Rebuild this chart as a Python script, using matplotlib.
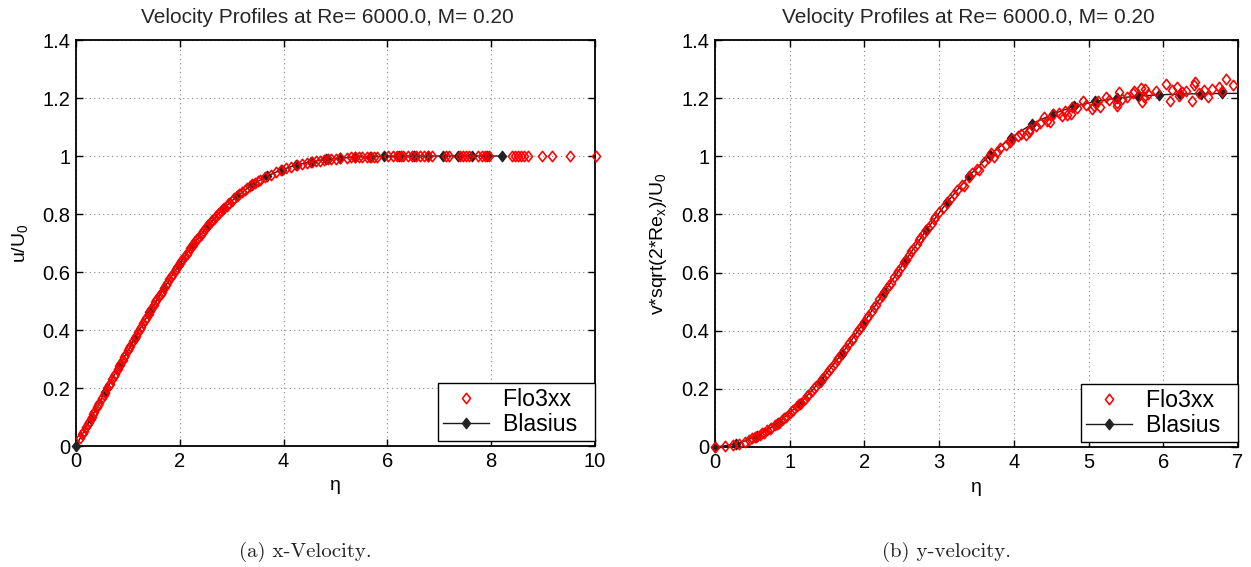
import matplotlib
matplotlib.use("Agg")
import matplotlib.pyplot as plt
from matplotlib.path import Path
from matplotlib.patches import Rectangle

plt.rcParams['font.family'] = ['Liberation Sans', 'DejaVu Sans']
plt.rcParams['mathtext.fontset'] = 'custom'
plt.rcParams['mathtext.rm'] = 'Liberation Sans'
plt.rcParams['mathtext.it'] = 'Liberation Sans'

# ---------------- data ----------------
title_text = "Velocity Profiles at Re= 6000.0, M= 0.20"

# Blasius solution points (eta, u/U0, v*sqrt(2Re_x)/U0)
blasius_eta = [0.000, 0.283, 0.566, 0.849, 1.131, 1.414, 1.697, 1.980, 2.263, 2.546,
               2.828, 3.111, 3.394, 3.677, 3.960, 4.243, 4.525, 4.808, 5.091, 5.374,
               5.657, 5.940, 6.223, 6.505, 6.788, 7.071, 7.354, 7.637, 7.920, 8.202]
blasius_u = [0.0000, 0.0940, 0.1877, 0.2807, 0.3717, 0.4605, 0.5449, 0.6243, 0.6963, 0.7607,
             0.8164, 0.8627, 0.9010, 0.9302, 0.9526, 0.9689, 0.9801, 0.9880, 0.9928, 0.9959,
             0.9977, 0.9988, 0.9994, 0.9997, 0.9999, 1.0000, 1.0000, 1.0000, 1.0000, 1.0000]
blasius_v = [0.0000, 0.0094, 0.0376, 0.0840, 0.1477, 0.2276, 0.3203, 0.4234, 0.5315, 0.6404,
             0.7461, 0.8430, 0.9309, 1.0038, 1.0640, 1.1112, 1.1457, 1.1718, 1.1885, 1.2000,
             1.2069, 1.2114, 1.2140, 1.2153, 1.2162, 1.2165, 1.2167, 1.2168, 1.2168, 1.2168]

# Flo3xx, x-velocity
flo_eta_u = [0.08, 0.12, 0.16, 0.20, 0.25, 0.30, 0.35, 0.40, 0.45, 0.50, 0.55, 0.60, 0.65,
             0.70, 0.75, 0.80, 0.85, 0.90, 0.95, 1.00, 1.05, 1.10, 1.15, 1.20, 1.25, 1.30,
             1.35, 1.40, 1.45, 1.50, 1.55, 1.60, 1.65, 1.70, 1.75, 1.80, 1.85, 1.90, 1.95,
             2.00, 2.05, 2.10, 2.15, 2.20, 2.25, 2.30, 2.35, 2.40, 2.45, 2.50, 2.55, 2.60,
             2.65, 2.70, 2.75, 2.80, 2.85, 2.90, 2.95, 3.00, 3.05, 3.10, 3.15, 3.20, 3.25,
             3.30, 3.35, 3.40, 3.45, 3.50, 3.55, 3.65, 3.75, 3.85, 3.95, 4.05, 4.15, 4.25,
             4.35, 4.45, 4.55, 4.62, 4.70, 4.78, 4.85, 4.92, 5.00, 5.08, 5.22, 5.30, 5.38,
             5.45, 5.52, 5.60, 5.68, 5.75, 5.80, 6.02, 6.10, 6.18, 6.26, 6.30, 6.40, 6.47,
             6.55, 6.62, 6.70, 6.78, 6.86, 7.12, 7.18, 7.40, 7.45, 7.52, 7.58, 7.75, 7.82,
             7.88, 7.95, 8.40, 8.46, 8.52, 8.58, 8.63, 8.70, 8.98, 9.17, 9.52, 10.02,
             0.13, 0.23, 0.33, 0.43, 0.53, 0.63, 0.73, 0.83, 0.93, 1.03, 1.13, 1.23, 1.33,
             1.43, 1.53, 1.63, 1.73, 1.83, 1.93, 2.03, 2.13, 2.23, 2.33, 2.43, 2.53, 2.63,
             2.73, 2.83, 2.93]
flo_u = [0.0266, 0.0398, 0.0531, 0.0664, 0.0830, 0.0996, 0.1162, 0.1328, 0.1493, 0.1659,
         0.1824, 0.1989, 0.2154, 0.2319, 0.2483, 0.2647, 0.2811, 0.2974, 0.3136, 0.3298,
         0.3459, 0.3619, 0.3779, 0.3938, 0.4096, 0.4252, 0.4408, 0.4563, 0.4716, 0.4868,
         0.5018, 0.5168, 0.5315, 0.5461, 0.5605, 0.5748, 0.5888, 0.6026, 0.6163, 0.6298,
         0.6430, 0.6560, 0.6688, 0.6813, 0.6936, 0.7056, 0.7174, 0.7290, 0.7403, 0.7513,
         0.7620, 0.7725, 0.7827, 0.7926, 0.8022, 0.8115, 0.8205, 0.8292, 0.8377, 0.8461,
         0.8540, 0.8617, 0.8690, 0.8761, 0.8828, 0.8893, 0.8956, 0.9018, 0.9075, 0.9130,
         0.9170, 0.9270, 0.9360, 0.9440, 0.9510, 0.9570, 0.9630, 0.9680, 0.9720, 0.9760,
         0.9800, 0.9820, 0.9840, 0.9860, 0.9880, 0.9890, 0.9910, 0.9920, 0.9940, 0.9950,
         0.9960, 0.9960, 0.9970, 0.9970, 0.9980, 0.9980, 0.9980, 0.9990, 0.9990, 0.9990,
         0.9990, 0.9990, 1.0000, 1.0000, 1.0000, 1.0000, 1.0000, 1.0000, 1.0000, 1.0000,
         1.0000, 1.0000, 1.0000, 1.0000, 1.0000, 1.0000, 1.0000, 1.0000, 1.0000, 1.0000,
         1.0000, 1.0000, 1.0000, 1.0000, 1.0000, 1.0000, 1.0000, 1.0000, 1.0000,
         0.0432, 0.0764, 0.1096, 0.1427, 0.1758, 0.2088, 0.2417, 0.2746, 0.3071, 0.3395,
         0.3715, 0.4033, 0.4346, 0.4655, 0.4958, 0.5256, 0.5548, 0.5832, 0.6108, 0.6377,
         0.6637, 0.6887, 0.7127, 0.7358, 0.7577, 0.7786, 0.7984, 0.8169, 0.8343]

# Flo3xx, y-velocity
flo_eta_v = [0.00, 0.13, 0.24, 0.32, 0.40, 0.45, 0.50, 0.55, 0.60, 0.65, 0.70, 0.75, 0.80,
             0.85, 0.90, 0.95, 1.00, 1.05, 1.10, 1.15, 1.20, 1.25, 1.30, 1.35, 1.40, 1.45,
             1.50, 1.55, 1.60, 1.65, 1.70, 1.75, 1.80, 1.85, 1.90, 1.95, 2.00, 2.05, 2.10,
             2.15, 2.20, 2.25, 2.30, 2.35, 2.40, 2.45, 2.50, 2.55, 2.60, 2.65, 2.70, 2.75,
             2.80, 2.85, 2.90, 2.95, 3.00, 3.05, 3.10, 3.15, 3.20, 3.24, 3.30, 3.33, 3.40,
             3.44, 3.50, 3.53, 3.60, 3.65, 3.69, 3.73, 3.78, 3.82, 3.89, 3.95, 3.98, 4.05,
             4.09, 4.16, 4.20, 4.22, 4.30, 4.35, 4.40, 4.45, 4.49, 4.53, 4.60, 4.65, 4.69,
             4.71, 4.76, 4.78, 4.85, 4.92, 4.97, 5.05, 5.07, 5.12, 5.15, 5.23, 5.28, 5.38,
             5.38, 5.41, 5.45, 5.52, 5.59, 5.61, 5.70, 5.72, 5.74, 5.76, 5.80, 5.90, 6.03,
             6.09, 6.11, 6.19, 6.21, 6.25, 6.30, 6.39, 6.41, 6.43, 6.48, 6.55, 6.60, 6.65,
             6.75, 6.79, 6.84, 6.93,
             0.53, 0.63, 0.73, 0.83, 0.93, 1.03, 1.13, 1.23, 1.33, 1.43, 1.53, 1.63, 1.73,
             1.83, 1.93, 2.03, 2.13, 2.23, 2.33, 2.43, 2.53, 2.63, 2.73, 2.83, 2.93]
flo_v = [0.0000, 0.0020, 0.0068, 0.0120, 0.0188, 0.0237, 0.0293, 0.0354, 0.0422, 0.0494,
         0.0573, 0.0657, 0.0747, 0.0842, 0.0943, 0.1049, 0.1161, 0.1278, 0.1400, 0.1527,
         0.1659, 0.1796, 0.1937, 0.2083, 0.2233, 0.2387, 0.2546, 0.2708, 0.2874, 0.3045,
         0.3222, 0.3392, 0.3571, 0.3753, 0.3940, 0.4122, 0.4310, 0.4500, 0.4692, 0.4882,
         0.5075, 0.5268, 0.5462, 0.5656, 0.5850, 0.6043, 0.6235, 0.6427, 0.6618, 0.6807,
         0.6993, 0.7179, 0.7363, 0.7542, 0.7717, 0.7896, 0.8070, 0.8238, 0.8399, 0.8540,
         0.8700, 0.8850, 0.9000, 0.8970, 0.9280, 0.9420, 0.9550, 0.9530, 0.9820, 0.9950,
         1.0100, 0.9990, 1.0150, 1.0270, 1.0380, 1.0500, 1.0610, 1.0700, 1.0780, 1.0720,
         1.0840, 1.0950, 1.1050, 1.1150, 1.1350, 1.1230, 1.1180, 1.1460, 1.1500, 1.1400,
         1.1570, 1.1410, 1.1460, 1.1690, 1.1650, 1.1890, 1.1750, 1.1630, 1.1740, 1.1910,
         1.1700, 1.2030, 1.1950, 1.1830, 1.1740, 1.2200, 1.1980, 1.2030, 1.2170, 1.2260,
         1.2340, 1.1860, 1.2030, 1.2310, 1.2150, 1.2250, 1.2480, 1.1890, 1.2280, 1.2370,
         1.2090, 1.2220, 1.2250, 1.1910, 1.2460, 1.2540, 1.2170, 1.2280, 1.2050, 1.2320,
         1.2370, 1.2260, 1.2650, 1.2460,
         0.0329, 0.0465, 0.0624, 0.0804, 0.1006, 0.1231, 0.1475, 0.1741, 0.2024, 0.2325,
         0.2643, 0.2976, 0.3323, 0.3680, 0.4047, 0.4424, 0.4806, 0.5191, 0.5579, 0.5966,
         0.6351, 0.6732, 0.7105, 0.7470, 0.7826]

x_ticks_a = [0, 2, 4, 6, 8, 10]
x_ticks_b = [0, 1, 2, 3, 4, 5, 6, 7]
y_ticks = [0, 0.2, 0.4, 0.6, 0.8, 1.0, 1.2, 1.4]
y_ticklabels = ['0', '0.2', '0.4', '0.6', '0.8', '1', '1.2', '1.4']

# ---------------- figure ----------------
W, H = 1251, 567
fig = plt.figure(figsize=(W / 100, H / 100), dpi=100)

diamond = Path([(0, 1), (0.78, 0), (0, -1), (-0.78, 0), (0, 1)],
               [Path.MOVETO, Path.LINETO, Path.LINETO, Path.LINETO, Path.CLOSEPOLY])


def px_axes(l, r, t, b):
    return [l / W, (H - b) / H, (r - l) / W, (b - t) / H]


ax1 = fig.add_axes(px_axes(76, 595, 40, 446))
ax2 = fig.add_axes(px_axes(715, 1238, 40, 447))

panels = [
    (ax1, flo_eta_u, flo_u, blasius_eta, blasius_u, (0, 10), x_ticks_a, r'u/U$_0$', 519),
    (ax2, flo_eta_v, flo_v, blasius_eta, blasius_v, (0, 7), x_ticks_b,
     r'v*sqrt(2*Re$_x$)/U$_0$', 523),
]

for ax, fx, fy, bx, by, xlim, xt, ylab, wpx in panels:
    clip_red = Rectangle((-0.05, -0.05), 1.1, 1.1, transform=ax.transAxes,
                         facecolor='none', edgecolor='none')
    clip_blk = Rectangle((-0.05, -0.05), 1.05, 1.1, transform=ax.transAxes,
                         facecolor='none', edgecolor='none')
    red, = ax.plot(fx, fy, linestyle='none', marker=diamond, markersize=7.5,
                   markerfacecolor='none', markeredgecolor='#ff0000',
                   markeredgewidth=1.15, label='Flo3xx', zorder=4)
    blk, = ax.plot(bx, by, color='#1a1a1a', linewidth=1.0, marker=diamond,
                   markersize=7.5, markerfacecolor='#222222',
                   markeredgecolor='#222222', label='Blasius', zorder=3)
    red.set_clip_path(clip_red)
    blk.set_clip_path(clip_blk)
    ax.set_xlim(*xlim)
    ax.set_ylim(0, 1.4)
    ax.set_xticks(xt)
    ax.set_xticklabels([str(v) for v in xt])
    ax.set_yticks(y_ticks)
    ax.set_yticklabels(y_ticklabels)
    ax.tick_params(direction='in', length=5, width=1.0, top=True, right=True,
                   labelsize=14.5, pad=4, colors='black')
    for s in ax.spines.values():
        s.set_linewidth(1.3)
        s.set_color('black')
        s.set_zorder(2.5)
    ax.grid(True, linestyle=(0, (1, 3)), color='#888888', linewidth=0.8)
    ax.set_axisbelow(True)
    ax.set_xlabel('η', fontsize=14, labelpad=5)
    ax.set_ylabel(ylab, fontsize=14, labelpad=9)
    ax.text(0.5 - 8 / wpx, 1 + 17 / 407, title_text, transform=ax.transAxes,
            fontsize=15, color='#262626', ha='center', va='baseline')
    leg = ax.legend([red, blk], ['Flo3xx  ', 'Blasius  '], loc='lower right',
                    bbox_to_anchor=(1.0, 5 / 407), borderaxespad=0,
                    fontsize=16.7, numpoints=1, fancybox=False, framealpha=1,
                    edgecolor='black', handlelength=2.0, handletextpad=0.6,
                    borderpad=0.2, labelspacing=0.1)
    leg.get_frame().set_linewidth(1.0)
    leg.set_zorder(6)

fig.text(305 / W, 1 - 552 / H, '(a) x-Velocity.', family='cmr10', fontsize=15,
         ha='center', va='center', color='#222222')
fig.text(946 / W, 1 - 552 / H, '(b) y-velocity.', family='cmr10', fontsize=15,
         ha='center', va='center', color='#222222')

fig.savefig('out.png', dpi=100)
